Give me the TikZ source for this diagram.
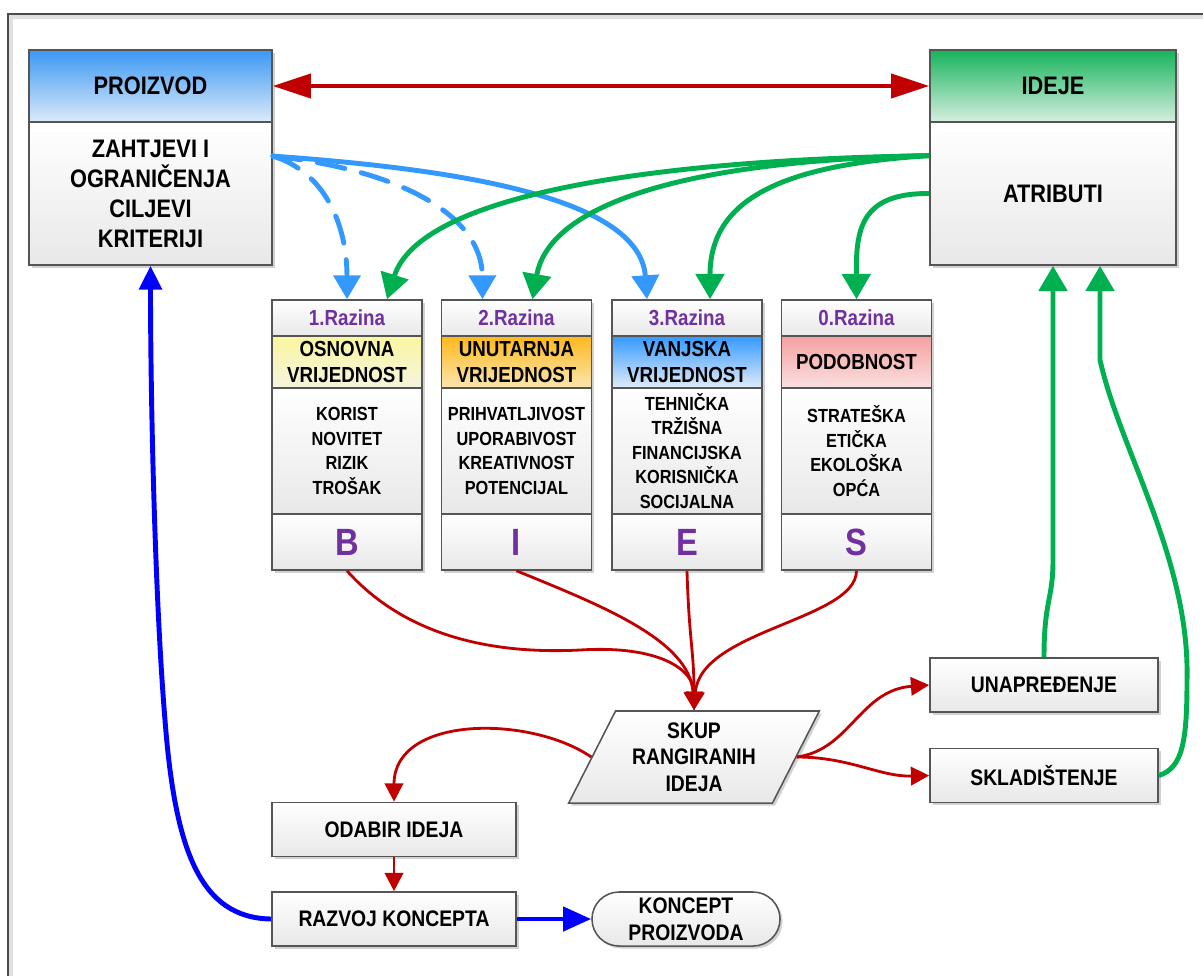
\documentclass[tikz,border=0pt]{standalone}
\usepackage{fontspec}
\setmainfont{Liberation Sans}[FakeStretch=0.86]
\usetikzlibrary{arrows.meta,shadows,shapes.geometric,shapes.misc,positioning}
\definecolor{ArrowRed}{RGB}{192,0,0}
\definecolor{SkyBlue}{RGB}{51,153,255}
\definecolor{DeepBlue}{RGB}{0,0,255}
\definecolor{LeafGreen}{RGB}{0,176,80}
\definecolor{LevelPurple}{RGB}{112,48,160}
\definecolor{BoxLine}{RGB}{85,85,85}
\definecolor{ProdTop}{RGB}{58,152,244}
\definecolor{ProdBot}{RGB}{220,234,248}
\definecolor{IdejeTop}{RGB}{22,179,90}
\definecolor{IdejeBot}{RGB}{214,239,224}
\definecolor{YellowTop}{RGB}{250,246,160}
\definecolor{YellowBot}{RGB}{244,244,222}
\definecolor{OrangeTop}{RGB}{255,184,28}
\definecolor{OrangeBot}{RGB}{250,230,176}
\definecolor{BlueTop}{RGB}{51,153,255}
\definecolor{BlueBot}{RGB}{226,236,248}
\definecolor{PinkTop}{RGB}{245,160,160}
\definecolor{PinkBot}{RGB}{250,224,224}
\tikzset{
  shadowed/.style={drop shadow={shadow xshift=1.8pt,shadow yshift=-1.8pt,opacity=.3,fill=black!60}},
  panel/.style={draw=BoxLine,line width=1.1pt,align=center,inner sep=0pt,shadowed},
  greyfill/.style={top color=white,bottom color=black!9},
  bighead/.style={panel,minimum height=1.8cm,font=\bfseries\fontsize{18}{21}\selectfont},
  bigbody/.style={panel,greyfill,minimum height=3.575cm,font=\bfseries\fontsize{18}{21.3}\selectfont},
  lvlhead/.style={panel,greyfill,minimum width=3.75cm,minimum height=0.9cm,text=LevelPurple,font=\bfseries\fontsize{15.5}{18}\selectfont},
  lvlband/.style={panel,minimum width=3.75cm,minimum height=1.3cm,font=\bfseries\fontsize{15.5}{18.5}\selectfont},
  lvllist/.style={panel,greyfill,minimum width=3.75cm,minimum height=3.15cm,font=\bfseries\fontsize{13.5}{17.4}\selectfont},
  lvlletter/.style={panel,greyfill,minimum width=3.75cm,minimum height=1.4cm,text=LevelPurple,font=\bfseries\fontsize{27}{30}\selectfont},
  flow/.style={panel,greyfill,minimum height=1.35cm,font=\bfseries\fontsize{16}{19}\selectfont},
  redline/.style={ArrowRed,line width=2pt,-{Triangle[length=13pt,width=13pt]}},
  redbig/.style={ArrowRed,line width=3pt,{Triangle[length=27pt,width=17pt]}-{Triangle[length=27pt,width=17pt]}},
  skyline/.style={SkyBlue,line width=3.5pt,-{Triangle[length=17pt,width=19pt]}},
  skydash/.style={skyline,dash pattern=on 20pt off 12pt,line cap=round},
  leafline/.style={LeafGreen,line width=3.5pt,-{Triangle[length=18pt,width=20pt]}},
  deepline/.style={DeepBlue,line width=3.5pt,-{Triangle[length=17pt,width=16pt]}}
}
% one column: name, x, level, band colours, band text, list, letter
\newcommand{\razina}[8]{%
  \node[lvlhead] (#1) at (#2,318) {#3.Razina};
  \node[lvlband,top color=#4,bottom color=#5] (#1band) at (#2,362) {#6};
  \node[lvllist] (#1list) at (#2,451) {#7};
  \node[lvlletter] (#1letter) at (#2,542) {#8};}

\begin{document}
\begin{tikzpicture}[x=0.025cm,y=-0.025cm]
  \useasboundingbox (0,0) rectangle (1203,976);
  \draw[black!12,line width=3pt] (11,976) -- (11,17) -- (1203,17);
  \draw[black!70,line width=1pt] (8,976) -- (8,14) -- (1203,14);

  \node[bighead,top color=ProdTop,bottom color=ProdBot,minimum width=6.075cm] (proizvod) at (150.5,86) {PROIZVOD};
  \node[bigbody,minimum width=6.075cm] (zahtjevi) at (150.5,193.5) {ZAHTJEVI I\\OGRANIČENJA\\CILJEVI\\KRITERIJI};
  \node[bighead,top color=IdejeTop,bottom color=IdejeBot,minimum width=6.15cm] (ideje) at (1053,86) {IDEJE};
  \node[bigbody,minimum width=6.15cm] (atributi) at (1053,193.5) {ATRIBUTI};

  \razina{lvlB}{347}{1}{YellowTop}{YellowBot}{OSNOVNA\\VRIJEDNOST}{KORIST\\NOVITET\\RIZIK\\TROŠAK}{B}
  \razina{lvlI}{516.5}{2}{OrangeTop}{OrangeBot}{UNUTARNJA\\VRIJEDNOST}{PRIHVATLJIVOST\\UPORABIVOST\\KREATIVNOST\\POTENCIJAL}{I}
  \razina{lvlE}{687}{3}{BlueTop}{BlueBot}{VANJSKA\\VRIJEDNOST}{TEHNIČKA\\TRŽIŠNA\\FINANCIJSKA\\KORISNIČKA\\SOCIJALNA}{E}
  \razina{lvlS}{856.5}{0}{PinkTop}{PinkBot}{PODOBNOST}{STRATEŠKA\\ETIČKA\\EKOLOŠKA\\OPĆA}{S}

  \node[flow,trapezium,trapezium left angle=62,trapezium right angle=118,trapezium stretches,
        minimum width=6.275cm,minimum height=2.3cm] (skup) at (694,757) {SKUP\\RANGIRANIH\\IDEJA};
  \node[flow,minimum width=5.7cm] (unap) at (1044,685) {UNAPREĐENJE};
  \node[flow,minimum width=5.7cm] (sklad) at (1044,775.5) {SKLADIŠTENJE};
  \node[flow,minimum width=6.1cm] (odabir) at (394,829.5) {ODABIR IDEJA};
  \node[flow,minimum width=6.1cm] (razvoj) at (394,919) {RAZVOJ KONCEPTA};
  \node[flow,rounded rectangle,minimum width=4.7cm] (koncept) at (686,919) {KONCEPT\\PROIZVODA};

  \draw[redbig] (proizvod.east) -- (ideje.west);

  % requirements down to the levels
  \draw[skydash] (zahtjevi.17) .. controls (325,172) and (347,225) .. (lvlB.north);
  \draw[skydash] (zahtjevi.17) .. controls (400,170) and (482,215) .. ([xshift=-0.85cm]lvlI.north);
  \draw[skyline] (zahtjevi.17) .. controls (470,170) and (640,200) .. ([xshift=-1cm]lvlE.north);

  % attributes down to the levels
  \draw[leafline] (atributi.163) .. controls (650,160) and (420,195) .. ([xshift=1cm]lvlB.north);
  \draw[leafline] (atributi.163) .. controls (700,160) and (550,200) .. ([xshift=0.4cm]lvlI.north);
  \draw[leafline] (atributi.163) .. controls (780,165) and (710,200) .. ([xshift=0.575cm]lvlE.north);
  \draw[leafline] (atributi.west) .. controls (860,193) and (856,230) .. (lvlS.north);

  % scores into the ranked set
  \draw[redline] (lvlBletter.south) .. controls (400,630) and (480,655) .. (580,650)
                 .. controls (660,645) and (694,670) .. (skup.north);
  \draw[redline] (lvlIletter.south) .. controls (600,605) and (690,640) .. (skup.north);
  \draw[redline] (lvlEletter.south) .. controls (689,640) and (694,650) .. (skup.north);
  \draw[redline] (lvlSletter.south) .. controls (856,620) and (700,630) .. (skup.north);

  \draw[redline] (skup.left side) .. controls (530,715) and (394,715) .. (odabir.north);
  \draw[redline] (skup.right side) .. controls (850,750) and (860,690) .. (unap.west);
  \draw[redline] (skup.right side) .. controls (850,757) and (880,777) .. (sklad.west);
  \draw[redline] (odabir) -- (razvoj);

  \draw[leafline] (unap.north) .. controls (1044,600) and (1053,600) .. (1053,560) -- (atributi.south);
  \draw[leafline] (sklad.east) .. controls (1183,768) and (1187,740) .. (1187,680)
                  .. controls (1190,560) and (1120,450) .. (1100,360) -- ([xshift=1.175cm]atributi.south);

  \draw[deepline] (razvoj.west) .. controls (200,918) and (175,850) .. (165,720)
                  .. controls (155,600) and (150.5,400) .. (zahtjevi.south);
  \draw[deepline,-{Triangle[length=20pt,width=17pt]}] (razvoj) -- (koncept);
\end{tikzpicture}
\end{document}
